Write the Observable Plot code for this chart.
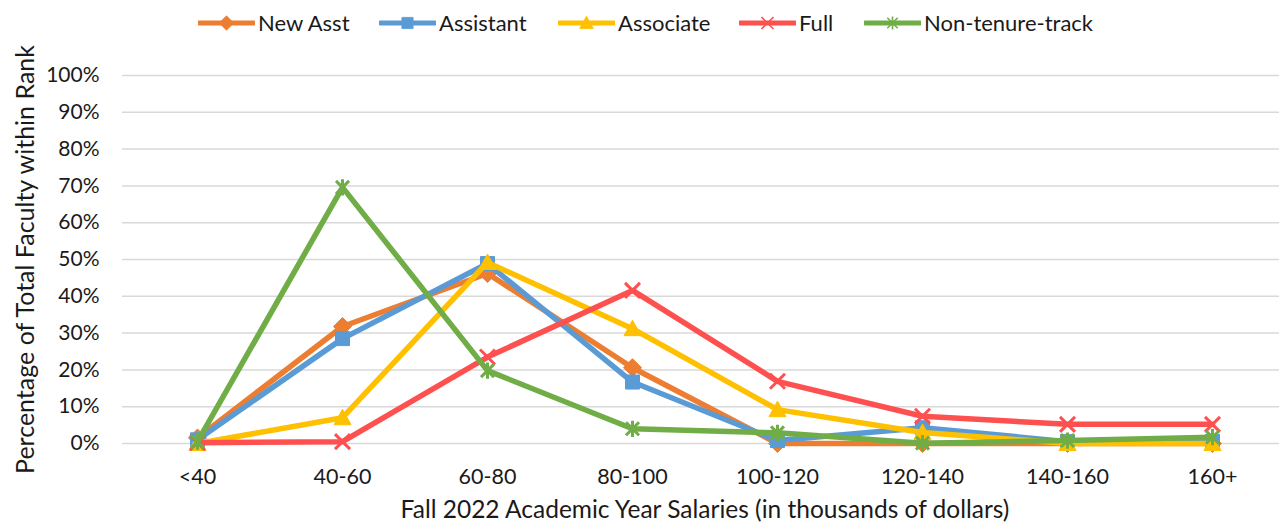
<!DOCTYPE html>
<html>
<head>
<meta charset="utf-8">
<script src="https://cdn.jsdelivr.net/npm/d3@7"></script>
<script src="https://cdn.jsdelivr.net/npm/@observablehq/plot@0.6"></script>
<style>
  html, body { margin: 0; padding: 0; background: #fff; }
  body { width: 1279px; height: 523px; overflow: hidden; font-family: Lato, "Open Sans", sans-serif; }
  #legend { position: relative; height: 44px; }
  .item { position: absolute; top: 9px; display: flex; align-items: center; font-size: 22px; color: #1a1a1a; white-space: nowrap; }
  .item svg { display: block; margin-right: 3px; }
</style>
</head>
<body>
<div id="legend"></div>
<div id="chart"></div>
<script>
const categories = ["<40", "40-60", "60-80", "80-100", "100-120", "120-140", "140-160", "160+"];
const seriesNames = ["New Asst", "Assistant", "Associate", "Full", "Non-tenure-track"];
const newAsst   = [1.5, 31.8, 46.2, 20.6, 0.0, 0.0, 0.0, 0.0];
const assistant = [1.0, 28.5, 48.9, 16.7, 0.8, 4.3, 0.5, 0.6];
const associate = [0.0, 7.0, 49.2, 31.2, 9.2, 3.0, 0.0, 0.0];
const full      = [0.2, 0.5, 23.5, 41.6, 16.9, 7.4, 5.2, 5.2];
const nonTenure = [0.5, 69.6, 19.8, 4.0, 2.9, 0.1, 0.8, 1.7];
const yTicks = [0, 10, 20, 30, 40, 50, 60, 70, 80, 90, 100];

const seriesValues = [newAsst, assistant, associate, full, nonTenure];
const colors = ["#ED7D31", "#5B9BD5", "#FFC000", "#FF5050", "#70AD47"];

// custom marker shapes
const diamondSym = {draw(c) { const h = 9; c.moveTo(0, -h); c.lineTo(h, 0); c.lineTo(0, h); c.lineTo(-h, 0); c.closePath(); }};
const squareSym = {draw(c) { const h = 7; c.moveTo(-h, -h); c.lineTo(h, -h); c.lineTo(h, h); c.lineTo(-h, h); c.closePath(); }};
const triangleSym = {draw(c) { const w = 8.5, t = 8.5, b = 7; c.moveTo(0, -t); c.lineTo(w, b); c.lineTo(-w, b); c.closePath(); }};
const timesSym = {draw(c) { const h = 7.5; c.moveTo(-h, -h); c.lineTo(h, h); c.moveTo(h, -h); c.lineTo(-h, h); }};
const starSym = {draw(c) { const h = 6.5; c.moveTo(-h, -h); c.lineTo(h, h); c.moveTo(h, -h); c.lineTo(-h, h); c.moveTo(0, -h * 1.25); c.lineTo(0, h * 1.25); }};
const symbols = [diamondSym, squareSym, triangleSym, timesSym, starSym];
const filled = [true, true, true, false, false];

const rows = [];
seriesNames.forEach((s, si) => {
  categories.forEach((c, ci) => rows.push({series: s, si, cat: c, value: seriesValues[si][ci] / 100}));
});

const marks = [
  Plot.ruleY(yTicks.map(d => d / 100), {stroke: "#d9d9d9", strokeWidth: 1.5}),
  Plot.axisY({ticks: yTicks.map(d => d / 100), tickFormat: d3.format(".0%"), tickSize: 0, tickPadding: 23, fontSize: 21, fill: "#1a1a1a", label: null}),
  Plot.axisX({tickSize: 0, tickPadding: 25, fontSize: 21.5, fill: "#1a1a1a", label: null}),
  Plot.text(["Percentage of Total Faculty within Rank"], {frameAnchor: "left", rotate: -90, dx: -97, fontSize: 25, fill: "#1a1a1a", textAnchor: "middle", lineAnchor: "middle"}),
  Plot.text(["Fall 2022 Academic Year Salaries (in thousands of dollars)"], {frameAnchor: "bottom", dy: 67, dx: 4, fontSize: 24.5, fill: "#1a1a1a", lineAnchor: "middle"})
];
seriesNames.forEach((s, si) => {
  const data = rows.filter(r => r.si === si);
  marks.push(Plot.line(data, {x: "cat", y: "value", stroke: colors[si], strokeWidth: 5.5, strokeLinejoin: "round"}));
  marks.push(Plot.dot(data, {x: "cat", y: "value", symbol: symbols[si],
    fill: filled[si] ? colors[si] : "none", stroke: colors[si], strokeWidth: filled[si] ? 1 : 3}));
});

const chart = Plot.plot({
  width: 1279,
  height: 479,
  marginLeft: 122,
  marginRight: 0,
  marginTop: 31,
  marginBottom: 80,
  style: {fontFamily: "Lato, 'Open Sans', sans-serif", background: "#fff"},
  x: {type: "point", domain: categories, range: [195, 1214], padding: 0, axis: null, label: null},
  y: {domain: [0, 1], axis: null, label: null},
  marks
});
document.getElementById("chart").appendChild(chart);

// legend
const legend = document.getElementById("legend");
const lefts = [198, 379, 558, 739, 864];
seriesNames.forEach((s, si) => {
  const item = document.createElement("div");
  item.className = "item";
  item.style.left = lefts[si] + "px";
  const svg = d3.create("svg").attr("width", 57).attr("height", 24);
  svg.append("line").attr("x1", 1).attr("x2", 56).attr("y1", 12).attr("y2", 12)
    .attr("stroke", colors[si]).attr("stroke-width", 5).attr("stroke-linecap", "round");
  const p = d3.path();
  symbols[si].draw(p, 0);
  svg.append("path").attr("d", p.toString()).attr("transform", "translate(28.5,12) scale(0.8)")
    .attr("fill", filled[si] ? colors[si] : "none").attr("stroke", colors[si]).attr("stroke-width", filled[si] ? 1 : 2);
  item.appendChild(svg.node());
  const t = document.createElement("span");
  t.textContent = s;
  item.appendChild(t);
  legend.appendChild(item);
});
</script>
</body>
</html>
